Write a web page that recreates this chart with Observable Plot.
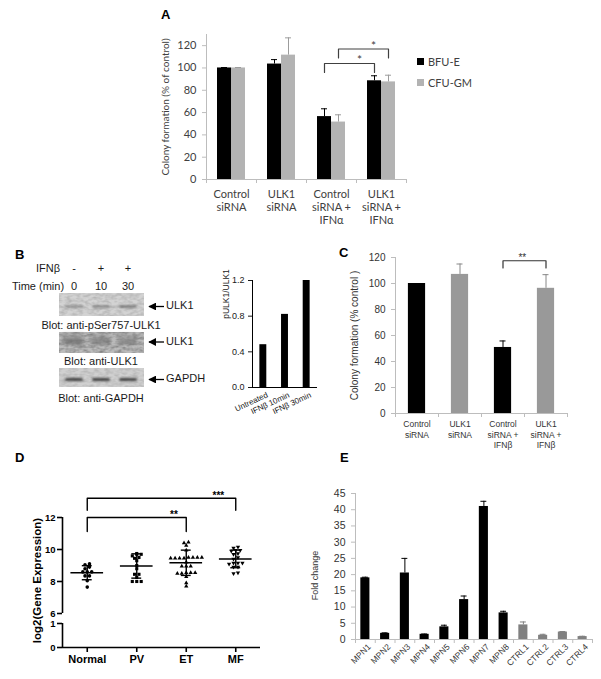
<!DOCTYPE html>
<html>
<head>
<meta charset="utf-8">
<script src="https://cdn.jsdelivr.net/npm/d3@7"></script>
<script src="https://cdn.jsdelivr.net/npm/@observablehq/plot@0.6"></script>
<style>
  html, body { margin: 0; padding: 0; background: #fff; }
  #page { position: relative; width: 601px; height: 679px; overflow: hidden; background: #fff; }
  #page > svg { position: absolute; left: 0; top: 0; }
  .letter { position: absolute; font: bold 13px "Liberation Sans", Arial, sans-serif; color: #000; line-height: 14px; }
  .legend { position: absolute; font: 11px Lato, sans-serif; color: #404040; }
  .legend .row { display: flex; align-items: center; height: 21px; }
  .legend .sw { display: inline-block; width: 7px; height: 7px; margin-right: 4px; }
</style>
</head>
<body>
<div id="page"></div>
<script>
// ================= DATA =================
// Panel A
const A_categories = ["Control\nsiRNA", "ULK1\nsiRNA", "Control\nsiRNA +\nIFNα", "ULK1\nsiRNA +\nIFNα"];
const A_series = ["BFU-E", "CFU-GM"];
const A_bfu = [100, 103.5, 56.4, 88.5];
const A_bfu_err = [0.4, 4, 7, 4.5];
const A_cfu = [100, 111.5, 51.5, 87.5];
const A_cfu_err = [0.4, 15.5, 6.5, 6];
const A_ticks = [0, 20, 40, 60, 80, 100, 120];
const A_sig = [
  {from: 2, to: 3, series: "BFU-E", top: 104, foot: 96, label: "*"},
  {from: 2, to: 3, series: "CFU-GM", top: 117, foot: 109, label: "*"}
];

// Panel B (blot + quantification)
const B_treatment = ["-", "+", "+"];
const B_time = ["0", "10", "30"];
const B_blots = [
  {caption: "Blot: anti-pSer757-ULK1", target: "ULK1", band: [0.45, 0.5, 0.6]},
  {caption: "Blot: anti-ULK1", target: "ULK1", band: [0.55, 0.4, 0.35]},
  {caption: "Blot: anti-GAPDH", target: "GAPDH", band: [0.85, 0.85, 0.85]}
];
const B_labels = ["Untreated", "IFNβ 10min", "IFNβ 30min"];
const B_values = [0.48, 0.82, 1.2];
const B_ticks = [0, 0.4, 0.8, 1.2];

// Panel C
const C_categories = ["Control\nsiRNA", "ULK1\nsiRNA", "Control\nsiRNA +\nIFNβ", "ULK1\nsiRNA +\nIFNβ"];
const C_knockdown = ["Control", "ULK1", "Control", "ULK1"];
const C_values = [100, 107, 50.8, 96.3];
const C_err = [0, 8, 5, 10.5];
const C_ticks = [0, 20, 40, 60, 80, 100, 120];
const C_sig = [{from: 2, to: 3, top: 117.5, foot: 112, label: "**"}];

// Panel D
const D_groups = ["Normal", "PV", "ET", "MF"];
const D_normal = [9.1, 9.05, 8.9, 8.8, 8.6, 8.6, 8.6, 8.35, 8.35, 8.05, 7.65];
const D_pv = [9.75, 9.7, 9.7, 9.6, 9.5, 9.45, 9.3, 9.0, 8.8, 8.45, 8.45, 8.25, 8.0, 8.0, 8.0];
const D_et = [10.45, 10.4, 10.25, 9.95, 9.5, 9.45, 9.45, 9.5, 9.45, 9.5, 9.45, 9.5, 9.2, 8.95, 8.95, 8.95, 8.55, 8.55, 8.5, 8.55, 8.5, 8.3, 7.9, 7.7];
const D_mf = [10.15, 10.1, 9.95, 9.95, 9.9, 9.75, 9.7, 9.5, 9.4, 9.15, 9.15, 9.15, 9.1, 8.9, 8.9, 8.55, 8.5];
const D_mean = [8.55, 8.97, 9.17, 9.41];
const D_sd = [0.44, 0.76, 0.79, 0.55];
const D_ticks = [0, 1, 6, 8, 10, 12];
const D_sig = [
  {from: 0, to: 2, top: 12, foot: 11.12, label: "**"},
  {from: 0, to: 3, top: 13.2, foot: 12.45, label: "***"}
];

// Panel E
const E_samples = ["MPN1", "MPN2", "MPN3", "MPN4", "MPN5", "MPN6", "MPN7", "MPN8", "CTRL1", "CTRL2", "CTRL3", "CTRL4"];
const E_values = [19.0, 1.9, 20.5, 1.6, 3.9, 12.3, 41.0, 8.2, 4.5, 1.3, 2.3, 0.9];
const E_err = [0.2, 0.15, 4.5, 0.1, 0.5, 1.1, 1.6, 0.5, 0.9, 0.3, 0.15, 0.1];
const E_ticks = [0, 5, 10, 15, 20, 25, 30, 35, 40, 45];

// ================= HELPERS =================
const ARIAL = "'Liberation Sans', Arial, Helvetica, sans-serif";
const CALIBRI = "Lato, 'Liberation Sans', sans-serif";
const PW = 601, PH = 679;
const page = document.getElementById("page");
function box(left, right, top, bottom) {
  return {width: PW, height: PH, marginLeft: left, marginRight: PW - right, marginTop: top, marginBottom: PH - bottom};
}
function look(font, color) {
  return {background: "transparent", overflow: "visible", fontFamily: font, color: color, fontSize: "11px"};
}
function add(node) { page.appendChild(node); }
function bracketPath(list, xOf) {
  return list.flatMap((b, k) => {
    const x1 = xOf(b, b.from), x2 = xOf(b, b.to);
    return [{k, x: x1, y: b.foot}, {k, x: x1, y: b.top}, {k, x: x2, y: b.top}, {k, x: x2, y: b.foot}];
  });
}

// ================= PANEL B: BLOT (illustration) =================
(function drawBlot() {
  const svg = d3.create("svg").attr("width", PW).attr("height", PH)
    .style("font-family", ARIAL).style("font-size", "11px");
  const defs = svg.append("defs");
  const noise = defs.append("filter").attr("id", "grain").attr("x", 0).attr("y", 0).attr("width", "100%").attr("height", "100%");
  noise.append("feTurbulence").attr("type", "fractalNoise").attr("baseFrequency", "0.18 0.35").attr("numOctaves", 2).attr("seed", 4);
  noise.append("feColorMatrix").attr("type", "matrix").attr("values", "0 0 0 0 0  0 0 0 0 0  0 0 0 0 0  0 0 0 -1.6 1.05");
  const blur = defs.append("filter").attr("id", "bandblur").attr("x", "-20%").attr("y", "-100%").attr("width", "140%").attr("height", "300%");
  blur.append("feGaussianBlur").attr("stdDeviation", 0.9);
  const blur2 = defs.append("filter").attr("id", "smudge").attr("x", "-30%").attr("y", "-100%").attr("width", "160%").attr("height", "300%");
  blur2.append("feGaussianBlur").attr("stdDeviation", 2.2);
  const marker = defs.append("marker").attr("id", "arrowhead").attr("viewBox", "0 0 10 10").attr("refX", 9).attr("refY", 5)
    .attr("markerWidth", 6).attr("markerHeight", 6).attr("orient", "auto");
  marker.append("path").attr("d", "M0,0 L10,5 L0,10 z").attr("fill", "#000");

  const laneX = [74, 101, 128];
  const blotLeft = 59, blotRight = 144;
  const rows = [
    {top: 293, h: 23, bg: "#d3d3d3", bandY: 305, bandH: 3, ink: "#555", grain: 0.18, caption: 326},
    {top: 332, h: 21, bg: "#bcbcbc", bandY: 339, bandH: 6, ink: "#666", grain: 0.35, caption: 362},
    {top: 368, h: 19, bg: "#d0d0d0", bandY: 378, bandH: 3, ink: "#2a2a2a", grain: 0.15, caption: 399}
  ];
  const t = svg.append("g").attr("fill", "#1a1a1a");
  t.append("text").attr("x", 48).attr("y", 269).attr("text-anchor", "middle").attr("dominant-baseline", "middle").text("IFNβ");
  t.append("text").attr("x", 38).attr("y", 287).attr("text-anchor", "middle").attr("dominant-baseline", "middle").text("Time (min)");
  B_treatment.forEach((s, i) => t.append("text").attr("x", laneX[i]).attr("y", 269).attr("text-anchor", "middle").attr("dominant-baseline", "middle").text(s));
  B_time.forEach((s, i) => t.append("text").attr("x", laneX[i]).attr("y", 287).attr("text-anchor", "middle").attr("dominant-baseline", "middle").text(s));

  B_blots.forEach((b, r) => {
    const L = rows[r];
    svg.append("rect").attr("x", blotLeft).attr("y", L.top).attr("width", blotRight - blotLeft).attr("height", L.h).attr("fill", L.bg);
    svg.append("rect").attr("x", blotLeft).attr("y", L.top).attr("width", blotRight - blotLeft).attr("height", L.h)
      .attr("filter", "url(#grain)").attr("opacity", L.grain);
    if (r === 1) {
      b.band.forEach((a, i) => svg.append("rect").attr("x", laneX[i] - 11).attr("y", L.top + 2).attr("width", 20).attr("height", 9)
        .attr("fill", "#7a7a7a").attr("opacity", a).attr("filter", "url(#smudge)"));
    }
    b.band.forEach((a, i) => svg.append("rect").attr("x", laneX[i] - 9).attr("y", L.bandY).attr("width", 18).attr("height", L.bandH)
      .attr("rx", 1.5).attr("fill", L.ink).attr("opacity", a).attr("filter", "url(#bandblur)"));
    const ay = L.bandY + L.bandH / 2;
    svg.append("line").attr("x1", 164).attr("x2", 149).attr("y1", ay).attr("y2", ay).attr("stroke", "#000").attr("stroke-width", 1.3)
      .attr("marker-end", "url(#arrowhead)");
    t.append("text").attr("x", 166).attr("y", ay).attr("dominant-baseline", "middle").text(b.target);
    t.append("text").attr("x", 101).attr("y", L.caption).attr("text-anchor", "middle").attr("dominant-baseline", "middle").text(b.caption);
  });
  add(svg.node());
})();

// ================= PANEL A =================
const aw = 0.28;
const aRows = A_categories.flatMap((cat, i) => [
  {i, series: A_series[0], side: -1, v: A_bfu[i], e: A_bfu_err[i]},
  {i, series: A_series[1], side: 1, v: A_cfu[i], e: A_cfu_err[i]}
]);
const aColor = {"BFU-E": "#000000", "CFU-GM": "#b3b3b3"};
const aErr = {"BFU-E": "#000000", "CFU-GM": "#9c9c9c"};
const aMid = d => d.i + 0.5 + d.side * aw / 2;
const aBr = bracketPath(A_sig, (b, c) => c + 0.5 + (b.series === "BFU-E" ? -1 : 1) * aw / 2);
add(Plot.plot({
  ...box(206, 406, 34, 179),
  style: look(CALIBRI, "#404040"),
  x: {domain: [0, 4]},
  y: {domain: [0, 130]},
  marks: [
    ...A_series.map(s => Plot.rectY(aRows.filter(d => d.series === s), {
      x1: d => d.side < 0 ? d.i + 0.5 - aw : d.i + 0.5,
      x2: d => d.side < 0 ? d.i + 0.5 : d.i + 0.5 + aw,
      y1: 0, y2: "v", fill: aColor[s]})),
    ...A_series.map(s => Plot.ruleX(aRows.filter(d => d.series === s), {x: aMid, y1: "v", y2: d => d.v + d.e, stroke: aErr[s]})),
    ...A_series.map(s => Plot.ruleY(aRows.filter(d => d.series === s), {y: d => d.v + d.e, x1: d => aMid(d) - 0.06, x2: d => aMid(d) + 0.06, stroke: aErr[s]})),
    Plot.ruleX([0], {stroke: "#bdbdbd"}),
    Plot.ruleY([0], {stroke: "#bdbdbd"}),
    Plot.axisY(A_ticks, {anchor: "left", tickSize: 4, tickPadding: 6, stroke: "#bdbdbd", fill: "#404040", fontSize: 11, label: null}),
    Plot.axisX(d3.range(A_categories.length + 1), {anchor: "bottom", tickSize: 4, stroke: "#bdbdbd", tickFormat: () => "", label: null}),
    Plot.axisX(A_categories.map((c, i) => i + 0.5), {anchor: "bottom", tickSize: 0, tickPadding: 9, fontSize: 11, lineHeight: 1.2,
      fill: "#404040", tickFormat: d => A_categories[Math.floor(d)], label: null}),
    Plot.line(aBr, {x: "x", y: "y", z: "k", stroke: "#404040", strokeWidth: 1.2}),
    Plot.text(A_sig, {x: b => b.from + 0.5 + (b.series === "BFU-E" ? -1 : 1) * aw / 2 + 0.7 * (b.to - b.from), y: "top",
      text: "label", lineAnchor: "middle", dy: -3, fontSize: 12, fill: "#404040"}),
    Plot.text(["Colony formation (% of control)"], {text: d => d, frameAnchor: "left", textAnchor: "middle", rotate: -90, dx: -41, fontSize: 10, fill: "#404040"})
  ]
}));

// ================= PANEL B: quantification =================
add(Plot.plot({
  ...box(252, 317, 280, 387),
  style: look(ARIAL, "#1a1a1a"),
  x: {domain: [0, 3], axis: null},
  y: {domain: [0, 1.2]},
  marks: [
    Plot.rectY(B_values, {x1: (d, i) => i + 0.5 - 0.16, x2: (d, i) => i + 0.5 + 0.16, y1: 0, y2: d => d, fill: "#000"}),
    Plot.ruleX([0], {stroke: "#000"}),
    Plot.ruleY([0], {stroke: "#000"}),
    Plot.axisY(B_ticks, {anchor: "left", tickSize: 4, tickPadding: 4, tickFormat: ".1f", fontSize: 9, label: null}),
    Plot.text(B_labels, {x: (d, i) => i + 0.5, y: 0, text: d => d, rotate: -25, textAnchor: "end", lineAnchor: "middle", dx: 4, dy: 7, fontSize: 8}),
    Plot.text(["pULK1/ULK1"], {text: d => d, frameAnchor: "left", textAnchor: "middle", rotate: -90, dx: -26, dy: -40, fontSize: 8.5})
  ]
}));

// ================= PANEL C =================
const cw = 0.2;
const cRows = C_categories.map((c, i) => ({i, v: C_values[i], e: C_err[i], kd: C_knockdown[i]}));
const cColor = {"Control": "#000000", "ULK1": "#999999"};
const cBr = bracketPath(C_sig, (b, c) => c + 0.5);
add(Plot.plot({
  ...box(395, 567, 257, 413),
  style: look(ARIAL, "#333"),
  x: {domain: [0, 4]},
  y: {domain: [0, 120]},
  marks: [
    ...Object.keys(cColor).map(k => Plot.rectY(cRows.filter(d => d.kd === k), {x1: d => d.i + 0.5 - cw, x2: d => d.i + 0.5 + cw, y1: 0, y2: "v", fill: cColor[k]})),
    ...Object.keys(cColor).map(k => Plot.ruleX(cRows.filter(d => d.kd === k && d.e > 0), {x: d => d.i + 0.5, y1: "v", y2: d => d.v + d.e, stroke: k === "Control" ? "#000" : "#888"})),
    ...Object.keys(cColor).map(k => Plot.ruleY(cRows.filter(d => d.kd === k && d.e > 0), {y: d => d.v + d.e, x1: d => d.i + 0.5 - 0.07, x2: d => d.i + 0.5 + 0.07, stroke: k === "Control" ? "#000" : "#888"})),
    Plot.ruleX([0], {stroke: "#bdbdbd"}),
    Plot.ruleY([0], {stroke: "#bdbdbd"}),
    Plot.axisY(C_ticks, {anchor: "left", tickSize: 4, tickPadding: 6, stroke: "#bdbdbd", fontSize: 10, label: null}),
    Plot.axisX(d3.range(C_categories.length + 1), {anchor: "bottom", tickSize: 4, stroke: "#bdbdbd", tickFormat: () => "", label: null}),
    Plot.axisX(C_categories.map((c, i) => i + 0.5), {anchor: "bottom", tickSize: 0, tickPadding: 6, fontSize: 8.5, lineHeight: 1.25,
      tickFormat: d => C_categories[Math.floor(d)], label: null}),
    Plot.line(cBr, {x: "x", y: "y", z: "k", stroke: "#333", strokeWidth: 1.2}),
    Plot.text(C_sig, {x: b => b.from + 0.5 + 0.45 * (b.to - b.from), y: "top", text: "label", lineAnchor: "middle", dy: -3, fontSize: 10}),
    Plot.text(["Colony formation (% control )"], {text: d => d, frameAnchor: "left", textAnchor: "middle", rotate: -90, dx: -41, fontSize: 10})
  ]
}));

// ================= PANEL D =================
// broken y axis: values >= 6 keep their own units; the 0-1 stub below the break is compressed
const D_breakLow = 1, D_breakHigh = 6;
function brk(v) { return v >= D_breakHigh ? v : D_breakHigh - 0.625 - (D_breakLow - v) * 1.5; }
const dTickLabel = new Map(D_ticks.map(t => [brk(t), String(t)]));
function spreadRows(values, rowGap, step) {
  const order = d3.range(values.length).sort((a, b) => values[a] - values[b]);
  const rows = [];
  for (const k of order) {
    const row = rows[rows.length - 1];
    if (row && values[k] - values[row[0]] <= rowGap) row.push(k); else rows.push([k]);
  }
  const off = new Array(values.length);
  for (const row of rows) row.forEach((k, j) => off[k] = (j - (row.length - 1) / 2) * step);
  return off;
}
const triangleDown = {
  draw(context, size) {
    const y = -Math.sqrt(size / (Math.sqrt(3) * 3));
    context.moveTo(0, -y * 2);
    context.lineTo(-Math.sqrt(3) * y, y);
    context.lineTo(Math.sqrt(3) * y, y);
    context.closePath();
  }
};
const D_all = [D_normal, D_pv, D_et, D_mf];
const dSymbols = ["circle", "square", "triangle", triangleDown];
const dSizes = [1.8, 1.75, 1.6, 1.6];
const dPoints = D_all.map((vals, g) => {
  const off = spreadRows(vals, 0.12, 0.09);
  return vals.map((v, k) => ({g, v, x: g + 0.5 + off[k]}));
});
const dSummary = D_groups.map((name, g) => ({g, m: D_mean[g], s: D_sd[g]}));
const dBr = bracketPath(D_sig, (b, c) => c + 0.5);
add(Plot.plot({
  ...box(62, 260, 517, 647),
  style: look(ARIAL, "#000"),
  x: {domain: [0, 4]},
  y: {domain: [brk(0), 12]},
  marks: [
    Plot.ruleX([[0, D_breakLow], [D_breakHigh, 12]], {x: 0, y1: d => brk(d[0]), y2: d => brk(d[1]), stroke: "#000", strokeWidth: 1.6}),
    Plot.ruleY([brk(0)], {stroke: "#000", strokeWidth: 1.6}),
    Plot.axisY(D_ticks.map(brk), {anchor: "left", tickSize: 5, tickPadding: 2, strokeWidth: 1.6, fontSize: 9.5, fontWeight: "bold",
      tickFormat: u => dTickLabel.get(u), label: null}),
    Plot.axisX(D_groups.map((g, i) => i + 0.5), {anchor: "bottom", tickSize: 5, tickPadding: 3, strokeWidth: 1.6, fontSize: 11, fontWeight: "bold",
      tickFormat: d => D_groups[Math.floor(d)], label: null}),
    ...dPoints.map((pts, g) => Plot.dot(pts, {x: "x", y: d => brk(d.v), symbol: dSymbols[g], r: dSizes[g], fill: "#000", stroke: "none"})),
    Plot.ruleY(dSummary, {y: d => brk(d.m), x1: d => d.g + 0.5 - 0.33, x2: d => d.g + 0.5 + 0.33, strokeWidth: 1.4}),
    Plot.ruleX(dSummary, {x: d => d.g + 0.5, y1: d => brk(d.m - d.s), y2: d => brk(d.m + d.s), strokeWidth: 1.4}),
    Plot.ruleY(dSummary, {y: d => brk(d.m + d.s), x1: d => d.g + 0.5 - 0.1, x2: d => d.g + 0.5 + 0.1, strokeWidth: 1.4}),
    Plot.ruleY(dSummary, {y: d => brk(d.m - d.s), x1: d => d.g + 0.5 - 0.1, x2: d => d.g + 0.5 + 0.1, strokeWidth: 1.4}),
    Plot.line(dBr, {x: "x", y: d => brk(d.y), z: "k", stroke: "#000", strokeWidth: 1.4}),
    Plot.text(D_sig, {x: b => b.from + 0.5 + 0.9 * (b.to - b.from) - 0.05, y: b => brk(b.top), text: "label", lineAnchor: "middle", dy: -3, fontSize: 10, fontWeight: "bold"}),
    Plot.text(["log2(Gene Expression)"], {text: d => d, frameAnchor: "left", textAnchor: "middle", rotate: -90, dx: -25, dy: -2, fontSize: 11.5, fontWeight: "bold"})
  ]
}));

// ================= PANEL E =================
const eRows = E_samples.map((s, i) => ({i, s, v: E_values[i], e: E_err[i], grp: s.startsWith("MPN") ? "MPN" : "CTRL"}));
const eColor = {"MPN": "#000000", "CTRL": "#808080"};
const ew = 0.23;
add(Plot.plot({
  ...box(355, 592, 493, 639),
  style: look(ARIAL, "#333"),
  x: {domain: [0, 12]},
  y: {domain: [0, 45]},
  marks: [
    ...Object.keys(eColor).map(k => Plot.rectY(eRows.filter(d => d.grp === k), {x1: d => d.i + 0.5 - ew, x2: d => d.i + 0.5 + ew, y1: 0, y2: "v", fill: eColor[k]})),
    ...Object.keys(eColor).map(k => Plot.ruleX(eRows.filter(d => d.grp === k), {x: d => d.i + 0.5, y1: "v", y2: d => d.v + d.e, stroke: eColor[k]})),
    ...Object.keys(eColor).map(k => Plot.ruleY(eRows.filter(d => d.grp === k), {y: d => d.v + d.e, x1: d => d.i + 0.5 - 0.15, x2: d => d.i + 0.5 + 0.15, stroke: eColor[k]})),
    Plot.ruleX([0], {stroke: "#bdbdbd"}),
    Plot.ruleY([0], {stroke: "#bdbdbd"}),
    Plot.axisY(E_ticks, {anchor: "left", tickSize: 4, tickPadding: 6, stroke: "#bdbdbd", fontSize: 10.5, label: null}),
    Plot.axisX(d3.range(E_samples.length + 1), {anchor: "bottom", tickSize: 4, stroke: "#bdbdbd", tickFormat: () => "", label: null}),
    Plot.text(eRows, {x: d => d.i + 0.5, y: 0, text: "s", rotate: -45, textAnchor: "end", lineAnchor: "middle", dx: 4, dy: 6, fontSize: 8.5}),
    Plot.text(["Fold change"], {text: d => d, frameAnchor: "left", textAnchor: "middle", rotate: -90, dx: -40, dy: 9, fontSize: 9})
  ]
}));

// ================= LEGEND (panel A) & PANEL LETTERS =================
const legend = document.createElement("div");
legend.className = "legend";
legend.style.left = "417px";
legend.style.top = "51px";
A_series.forEach(s => {
  const row = document.createElement("div");
  row.className = "row";
  const sw = document.createElement("span");
  sw.className = "sw";
  sw.style.background = aColor[s];
  row.appendChild(sw);
  row.appendChild(document.createTextNode(s));
  legend.appendChild(row);
});
add(legend);

[["A", 161, 8], ["B", 15, 248], ["C", 339, 246], ["D", 15, 451], ["E", 340, 451]].forEach(([txt, x, y]) => {
  const el = document.createElement("div");
  el.className = "letter";
  el.style.left = x + "px";
  el.style.top = y + "px";
  el.textContent = txt;
  add(el);
});
</script>
</body>
</html>
